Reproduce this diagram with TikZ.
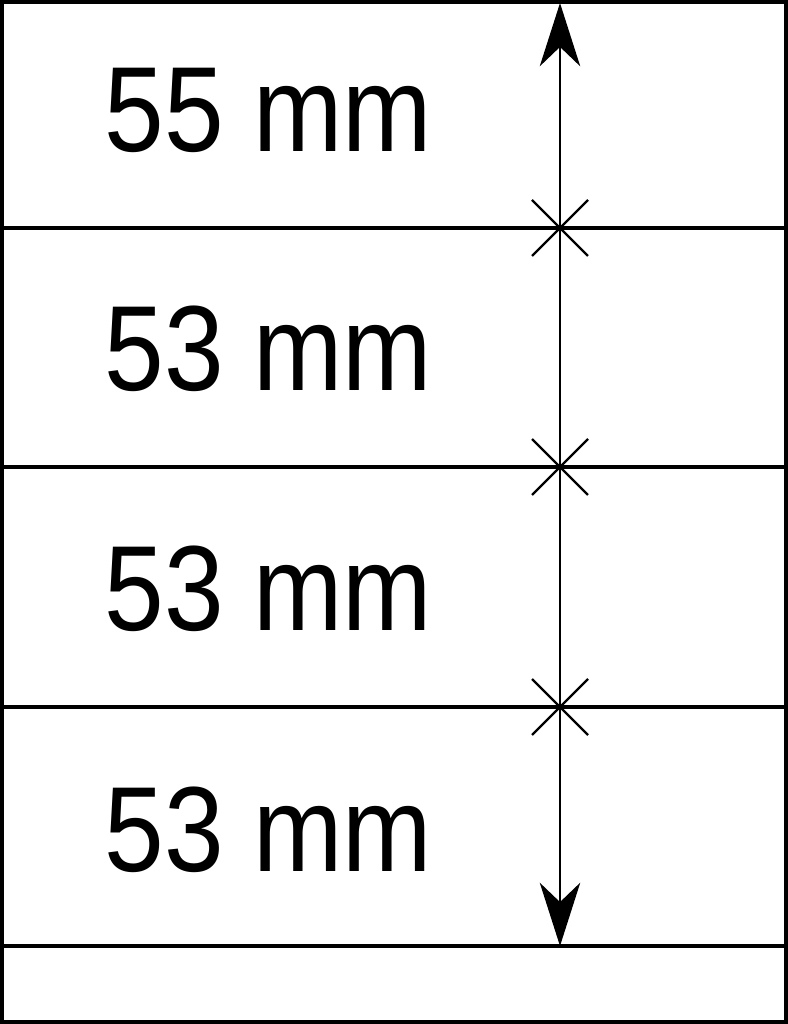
\documentclass[tikz,border=0pt]{standalone}
\usepackage{fontspec}
\setmainfont{Liberation Sans}
\usetikzlibrary{arrows.meta}
\begin{document}
\begin{tikzpicture}
      \tikzstyle{STY1} = [anchor=base west, inner sep=0pt, font=\fontsize{30.5}{36}\selectfont, yscale=1.13, transform shape]
      \tikzstyle{STY2} = [line width=1pt]
      \tikzstyle{STY3} = [{Stealth[length=18pt, width=11.5pt, inset=5.5pt]}-{Stealth[length=18pt, width=11.5pt, inset=5.5pt]}, line width=0.65pt]
      \tikzstyle{STY4} = [line width=0.7pt]

      \useasboundingbox (0,0) rectangle (7.88,10.24);

      %%%%% FRAME
      \draw[line width=1.2pt] (0.02,0.02) rectangle (7.86,10.22);

      \coordinate (l1) at (0.02, 7.96);  \coordinate (r1) at (7.86, 7.96);
      \coordinate (l2) at (0.02, 5.57);  \coordinate (r2) at (7.86, 5.57);
      \coordinate (l3) at (0.02, 3.17);  \coordinate (r3) at (7.86, 3.17);
      \coordinate (l4) at (0.02, 0.78);  \coordinate (r4) at (7.86, 0.78);

      \draw[STY2] (l1) -- (r1);
      \draw[STY2] (l2) -- (r2);
      \draw[STY2] (l3) -- (r3);
      \draw[STY2] (l4) -- (r4);

      %%%%% LABELS
      \node[STY1](t1) at (1.04, 8.72) {55 mm};
      \node[STY1](t2) at (1.04, 6.33) {53 mm};
      \node[STY1](t3) at (1.04, 3.93) {53 mm};
      \node[STY1](t4) at (1.04, 1.53) {53 mm};

      %%%%% DIMENSION
      \coordinate (top) at (5.60, 10.21);
      \coordinate (bot) at (5.60, 0.78);
      \coordinate (m1) at (5.60, 7.96);
      \coordinate (m2) at (5.60, 5.57);
      \coordinate (m3) at (5.60, 3.17);

      \draw[STY3] (top) -- (bot);

      \foreach \m in {m1, m2, m3} {
        \draw[STY4] ([shift={(-0.28,-0.28)}]\m) -- ([shift={(0.28,0.28)}]\m);
        \draw[STY4] ([shift={(-0.28,0.28)}]\m) -- ([shift={(0.28,-0.28)}]\m);
      }
\end{tikzpicture}
\end{document}
